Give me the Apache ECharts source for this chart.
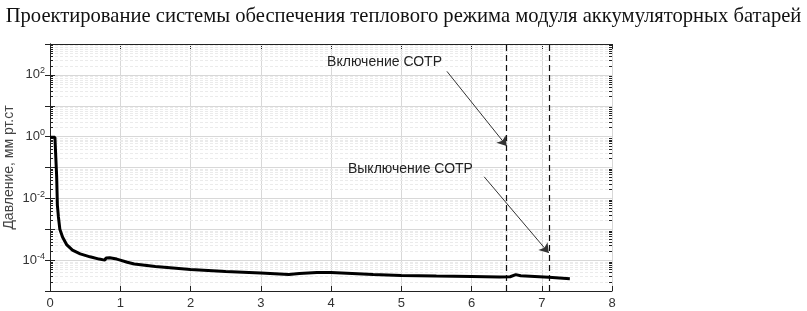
<!DOCTYPE html>
<html>
<head>
<meta charset="utf-8">
<script src="https://cdn.jsdelivr.net/npm/echarts@6/dist/echarts.min.js"></script>
<style>
html, body { margin: 0; padding: 0; background: #fff; }
#main { width: 807px; height: 311px; }
</style>
</head>
<body>
<div id="main"></div>
<script>
// данные кривой давления (время, давление мм рт.ст)
var timeVals = [0, 0.07, 0.085, 0.095, 0.105, 0.12, 0.14, 0.18, 0.24, 0.32, 0.43, 0.57, 0.7, 0.78, 0.8, 0.85, 0.95, 1.0, 1.1, 1.2, 1.5, 2.0, 2.5, 3.0, 3.4, 3.55, 3.8, 4.0, 4.3, 4.6, 5.0, 5.5, 6.0, 6.4, 6.55, 6.63, 6.7, 6.9, 7.1, 7.4];
var pressVals = [0.95, 0.95, 0.85, 0.05, 6e-3, 2.5e-3, 1e-3, 5.5e-4, 3.1e-4, 2.1e-4, 1.6e-4, 1.28e-4, 1.08e-4, 1e-4, 1.18e-4, 1.2e-4, 1.08e-4, 1e-4, 8.5e-5, 7.5e-5, 6.2e-5, 5e-5, 4.3e-5, 3.8e-5, 3.4e-5, 3.7e-5, 4e-5, 4e-5, 3.7e-5, 3.4e-5, 3.2e-5, 3.05e-5, 2.95e-5, 2.85e-5, 2.9e-5, 3.4e-5, 3.1e-5, 2.95e-5, 2.8e-5, 2.5e-5];

// события: включение / выключение СОТР
var eventNames = ['Включение СОТР', 'Выключение СОТР'];
var eventTimes = [6.5, 7.1];
var arrowFrom = [[5.65, 130], [6.18, 0.05]];
var arrowTo = [[6.5, 0.5], [7.1, 1.7e-4]];
var textAt = [[5.58, 257], [6.02, 0.091]];

var xTicks = [0, 1, 2, 3, 4, 5, 6, 7, 8];
var yMin = 1e-5, yMax = 1e3;

var seriesData = timeVals.map(function (t, i) { return [t, pressVals[i]]; });

// значения мелкой логарифмической сетки 2..9 * 10^d
var minorVals = [];
for (var d = -5; d < 3; d++) {
    for (var k = 2; k <= 9; k++) minorVals.push(k * Math.pow(10, d));
}

var chart = echarts.init(document.getElementById('main'));

function yLabel(value) {
    var e = Math.round(Math.log10(value));
    if (e % 2 !== 0) return '';
    return '{b|10}{s|' + e + '}';
}

var option = {
    animation: false,
    title: {
        text: 'Проектирование системы обеспечения теплового режима модуля аккумуляторных батарей',
        left: 'center',
        top: 1,
        textStyle: { fontFamily: 'Liberation Serif', fontSize: 20.6, fontWeight: 'normal', color: '#111' }
    },
    grid: { left: 50, right: 195, top: 44, bottom: 20, outerBoundsMode: 'none', containLabel: false },
    xAxis: [{
        type: 'value', min: 0, max: 8, interval: 1,
        axisLine: { lineStyle: { color: '#222' } },
        axisTick: { inside: true, length: 5, lineStyle: { color: '#222' } },
        axisLabel: { color: '#333', fontFamily: 'Liberation Sans', fontSize: 13, margin: 6 },
        splitLine: { show: true, lineStyle: { color: '#d8d8d8' } }
    }, {
        type: 'value', min: 0, max: 8, interval: 1, position: 'top',
        axisLine: { lineStyle: { color: '#222' } },
        axisTick: { inside: true, length: 5, lineStyle: { color: '#222' } },
        axisLabel: { show: false },
        splitLine: { show: false }
    }],
    yAxis: [{
        type: 'log', logBase: 10, min: yMin, max: yMax, splitNumber: 8,
        name: 'Давление, мм рт.ст',
        nameLocation: 'middle', nameRotate: 90, nameGap: 34, nameMoveOverlap: false,
        nameTextStyle: { color: '#444', fontFamily: 'Liberation Sans', fontSize: 14 },
        axisLine: { show: true, lineStyle: { color: '#222' } },
        axisTick: { inside: true, length: 5, lineStyle: { color: '#222' } },
        axisLabel: {
            formatter: yLabel, margin: 5,
            rich: {
                b: { color: '#333', fontFamily: 'Liberation Sans', fontSize: 13 },
                s: { color: '#333', fontFamily: 'Liberation Sans', fontSize: 9, verticalAlign: 'bottom', padding: [0, 0, 8, 0] }
            }
        },
        splitLine: { show: true, lineStyle: { color: '#d8d8d8' } }
    }, {
        type: 'log', logBase: 10, min: yMin, max: yMax, splitNumber: 8, position: 'right',
        axisLine: { show: true, lineStyle: { color: '#222' } },
        axisTick: { inside: true, length: 5, lineStyle: { color: '#222' } },
        axisLabel: { show: false },
        splitLine: { show: false }
    }],
    series: [{
        type: 'custom',
        silent: true,
        z: 1,
        data: [[0, 1]],
        renderItem: function (params, api) {
            var cs = params.coordSys;
            var children = [];
            minorVals.forEach(function (v) {
                var y = Math.round(api.coord([0, v])[1]) + 0.5;
                children.push({ type: 'line', shape: { x1: cs.x, y1: y, x2: cs.x + cs.width, y2: y },
                    style: { stroke: '#ebebeb', lineWidth: 1, lineDash: [3, 2] } });
                children.push({ type: 'line', shape: { x1: cs.x, y1: y, x2: cs.x + 3, y2: y },
                    style: { stroke: '#222', lineWidth: 1 } });
                children.push({ type: 'line', shape: { x1: cs.x + cs.width - 3, y1: y, x2: cs.x + cs.width, y2: y },
                    style: { stroke: '#222', lineWidth: 1 } });
            });
            return { type: 'group', children: children };
        }
    }, {
        type: 'line',
        z: 5,
        data: seriesData,
        showSymbol: false,
        lineStyle: { color: '#000', width: 3 },
        markLine: {
            silent: true,
            symbol: 'none',
            label: { show: false },
            lineStyle: { color: '#111', width: 1.2, type: [6, 4] },
            data: eventTimes.map(function (t) { return { xAxis: t }; })
        }
    }, {
        type: 'line',
        z: 6,
        data: [],
        markLine: {
            silent: true,
            symbol: ['none', 'arrow'],
            symbolSize: 9,
            label: { show: false },
            lineStyle: { color: '#333', width: 1, type: 'solid' },
            data: arrowFrom.map(function (p, i) {
                return [{ coord: p }, { coord: arrowTo[i] }];
            })
        },
        markPoint: {
            silent: true,
            symbol: 'circle',
            symbolSize: 0,
            label: {
                show: true, position: 'left', distance: 0,
                color: '#222', fontFamily: 'Liberation Sans', fontSize: 14,
                formatter: function (p) { return p.name; }
            },
            data: eventNames.map(function (n, i) { return { name: n, coord: textAt[i] }; })
        }
    }]
};

chart.setOption(option);
</script>
</body>
</html>
